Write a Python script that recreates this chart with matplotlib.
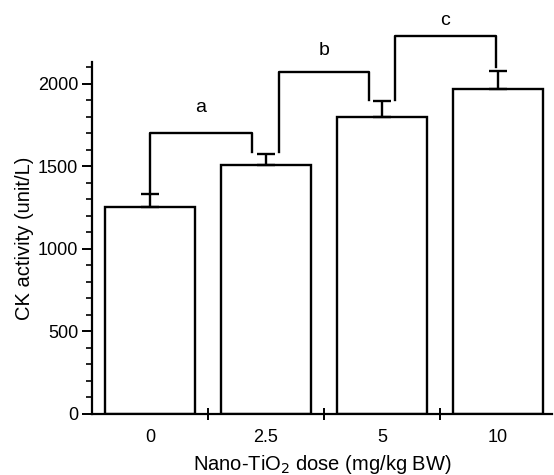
import matplotlib
matplotlib.use("Agg")
import matplotlib.pyplot as plt
import numpy as np

categories = ["0", "2.5", "5", "10"]
means = [1255, 1509, 1800, 1970]
errors = [78, 67, 97, 109]

# significance brackets: (left x, right x, left-leg bottom, right-leg bottom, top, label, label y)
brackets = [
    (0.0, 0.88, 1335, 1588, 1703, "a", 1860),
    (1.11, 1.89, 1588, 1903, 2073, "b", 2200),
    (2.11, 2.98, 1903, 2103, 2291, "c", 2385),
]

plt.rcParams['font.family'] = ['Liberation Sans', 'DejaVu Sans']

W, H = 554, 475
fig = plt.figure(figsize=(W / 100, H / 100), dpi=100)
ax = fig.add_axes([92 / W, (H - 414) / H, (552 - 92) / W, (414 - 62) / H])

x = np.arange(len(categories))
ax.bar(x, means, width=0.78, color="white", edgecolor="black", linewidth=1.7, zorder=2)
ax.errorbar(x, means, yerr=[np.zeros(len(errors)), errors], fmt="none",
            ecolor="black", elinewidth=1.7, capsize=6.5, capthick=1.7, zorder=3)

for xl, xr, yl, yr, top, lab, ly in brackets:
    ax.plot([xl, xl, xr, xr], [yl, top, top, yr], color="black", lw=1.7,
            clip_on=False, zorder=4)
    ax.text((xl + xr) / 2, ly, lab, ha="center", va="center",
            fontsize=14, clip_on=False)

ax.set_xlim(-0.5, 3.465)
ax.set_ylim(0, 2133)
ax.set_xticks([0.5, 1.5, 2.5], minor=False)
ax.set_xticklabels([])
ax.set_xticks(x, minor=True)
ax.set_xticklabels(categories, minor=True, fontsize=13)
ax.tick_params(axis="x", which="major", direction="inout", length=8, width=1.4)
ax.tick_params(axis="x", which="minor", length=0, pad=11)

ax.set_yticks([0, 500, 1000, 1500, 2000])
ax.set_yticks(np.arange(0, 2200, 100), minor=True)
ax.tick_params(axis="y", which="major", direction="out", length=7, width=1.4,
               labelsize=13, pad=3)
ax.tick_params(axis="y", which="minor", direction="out", length=4, width=1.2)

for s in ["top", "right"]:
    ax.spines[s].set_visible(False)
for s in ["left", "bottom"]:
    ax.spines[s].set_linewidth(1.6)

ax.set_ylabel("CK activity (unit/L)", fontsize=14.5, labelpad=3)
ax.set_xlabel("Nano-TiO$_2$ dose (mg/kg BW)", fontsize=14.5, labelpad=5)

fig.savefig("out.png", dpi=100)
